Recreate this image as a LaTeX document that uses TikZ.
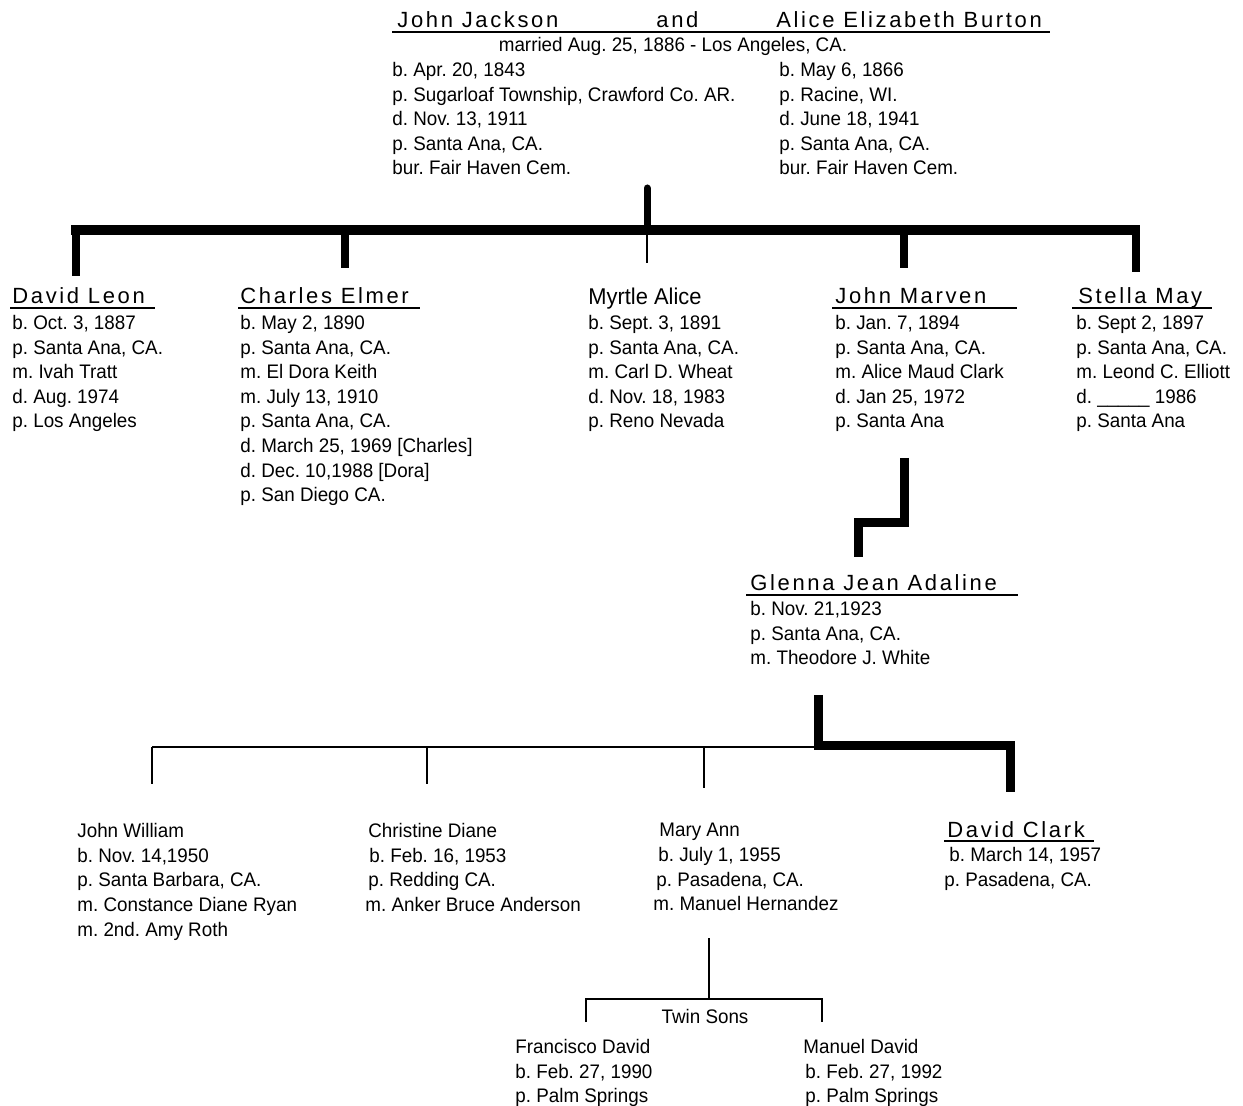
\documentclass[tikz,border=0pt]{standalone}
\usepackage{fontspec}
\setmainfont[FakeStretch=0.96]{Liberation Sans}
\newfontfamily\namefont[LetterSpace=12]{Liberation Sans}
\usetikzlibrary{calc,positioning}
\frenchspacing

\tikzset{
  info/.style={anchor=north west, inner sep=0pt, align=left,
    font=\fontsize{9.8}{12.3}\selectfont},
  person/.style={anchor=base west, inner sep=0pt,
    font=\fontsize{11}{12}\namefont},
  uline/.style={line width=1pt},
  heavybar/.style={line width=5pt},
  heavystem/.style={line width=4pt},
  lightline/.style={line width=0.9pt}
}

\begin{document}
\begin{tikzpicture}[x=0.5pt,y=-0.5pt]
      \useasboundingbox (0,0) rectangle (1243,1106);

      % parents
      \node [person] (jj) at (397,28) {John Jackson};
      \node [person] (and) at (656,28) {and};
      \node [person] (aeb) at (776,28) {Alice Elizabeth Burton};
      \draw [uline] ($ (jj.base west) + (-5,4) $) -- ($ (aeb.base west) + (274,4) $);
      \node [info, anchor=base] (wed) at (673,52) {married Aug. 25, 1886 - Los Angeles, CA.};
      \node [info] (jjdata) at (392,62) {b. Apr. 20, 1843\\ p. Sugarloaf Township, Crawford Co. AR.\\ d. Nov. 13, 1911\\ p. Santa Ana, CA.\\ bur. Fair Haven Cem.};
      \node [info] (aebdata) at (779,62) {b. May 6, 1866\\ p. Racine, WI.\\ d. June 18, 1941\\ p. Santa Ana, CA.\\ bur. Fair Haven Cem.};

      % children
      \node [person] (dl) at (12,304) {David Leon};
      \node [person] (ce) at (240,304) {Charles Elmer};
      \node [info, anchor=base west, font=\fontsize{11.4}{12}\selectfont] (ma) at (588,305) {Myrtle Alice};
      \node [person] (jm) at (835,304) {John Marven};
      \node [person] (sm) at (1078,304) {Stella May};
      \draw [uline] ($ (dl.base west) + (-2,4) $) -- +(145,0);
      \draw [uline] ($ (ce.base west) + (-2,4) $) -- +(182,0);
      \draw [uline] ($ (jm.base west) + (-3,4) $) -- +(185,0);
      \draw [uline] ($ (sm.base west) + (-6,4) $) -- +(140,0);

      \node [info] (dldata) at (12,315) {b. Oct. 3, 1887\\ p. Santa Ana, CA.\\ m. Ivah Tratt\\ d. Aug. 1974\\ p. Los Angeles};
      \node [info] (cedata) at (240,315) {b. May 2, 1890\\ p. Santa Ana, CA.\\ m. El Dora Keith\\ m. July 13, 1910\\ p. Santa Ana, CA.\\ d. March 25, 1969 [Charles]\\ d. Dec. 10,1988 [Dora]\\ p. San Diego CA.};
      \node [info] (madata) at (588,315) {b. Sept. 3, 1891\\ p. Santa Ana, CA.\\ m. Carl D. Wheat\\ d. Nov. 18, 1983\\ p. Reno Nevada};
      \node [info] (jmdata) at (835,315) {b. Jan. 7, 1894\\ p. Santa Ana, CA.\\ m. Alice Maud Clark\\ d. Jan 25, 1972\\ p. Santa Ana};
      \node [info] (smdata) at (1076,315) {b. Sept 2, 1897\\ p. Santa Ana, CA.\\ m. Leond C. Elliott\\ d. \_\_\_\_\_ 1986\\ p. Santa Ana};

      % top family bar
      \coordinate (top) at (647,188);
      \coordinate (mid) at (647,230);
      \draw [heavybar] (71,230) -- (1140,230);
      \draw [heavystem, line width=3.5pt, line cap=round] (top) -- (mid);
      \draw [lightline, line width=0.75pt] (mid) -- (647,263);
      \foreach \n/\x/\y in {dl/75.5/276, ce/345/268, jm/904/268, sm/1136/272}
               {
                 \draw [heavystem] (\x,228) -- (\x,\y);
               }

      % Glenna
      \node [person] (gja) at (750,591) {Glenna Jean Adaline};
      \draw [uline] ($ (gja.base west) + (-4,4) $) -- +(272,0);
      \node [info] (gjadata) at (750,601) {b. Nov. 21,1923\\ p. Santa Ana, CA.\\ m. Theodore J. White};
      \draw [heavystem, line width=4.5pt] (904,458) |- (858,523) -- (858,557);

      % grandchildren
      \draw [heavystem, line width=4.5pt] (818,695) |- (1010,746) -- (1010,792);
      \draw [lightline] (152,747) -- (818,747);
      \foreach \x/\y in {152/784, 427/784, 704/788}
               {
                 \draw [lightline] (\x,747) -- (\x,\y);
               }

      \node [info] (jw) at (77,823) {John William\\ b. Nov. 14,1950\\ p. Santa Barbara, CA.\\ m. Constance Diane Ryan\\ m. 2nd. Amy Roth};
      \node [info] (cd) at (365,823) {\hspace*{1.5pt}Christine Diane\\ \hspace*{2pt}b. Feb. 16, 1953\\ \hspace*{1.5pt}p. Redding CA.\\ m. Anker Bruce Anderson};
      \node [info] (mann) at (653,823) {\hspace*{3pt}Mary Ann\\ \hspace*{2.5pt}b. July 1, 1955\\ \hspace*{1.5pt}p. Pasadena, CA.\\ m. Manuel Hernandez};
      \node [person] (dc) at (947,837) {David Clark};
      \draw [uline] ($ (dc.base west) + (-3,4) $) -- +(150,0);
      \node [info] (dcdata) at (944,847) {\hspace*{2.5pt}b. March 14, 1957\\ p. Pasadena, CA.};

      % twins
      \draw [lightline] (709,938) -- (709,999);
      \draw [lightline] (586,1022) |- (822,999) -- (822,1022);
      \node [info, anchor=center] (twins) at (705,1016) {Twin Sons};
      \node [info] (fd) at (515,1039) {Francisco David\\ b. Feb. 27, 1990\\ p. Palm Springs};
      \node [info] (md) at (803,1039) {Manuel David\\ \hspace*{1pt}b. Feb. 27, 1992\\ \hspace*{1pt}p. Palm Springs};
    \end{tikzpicture}
\end{document}
